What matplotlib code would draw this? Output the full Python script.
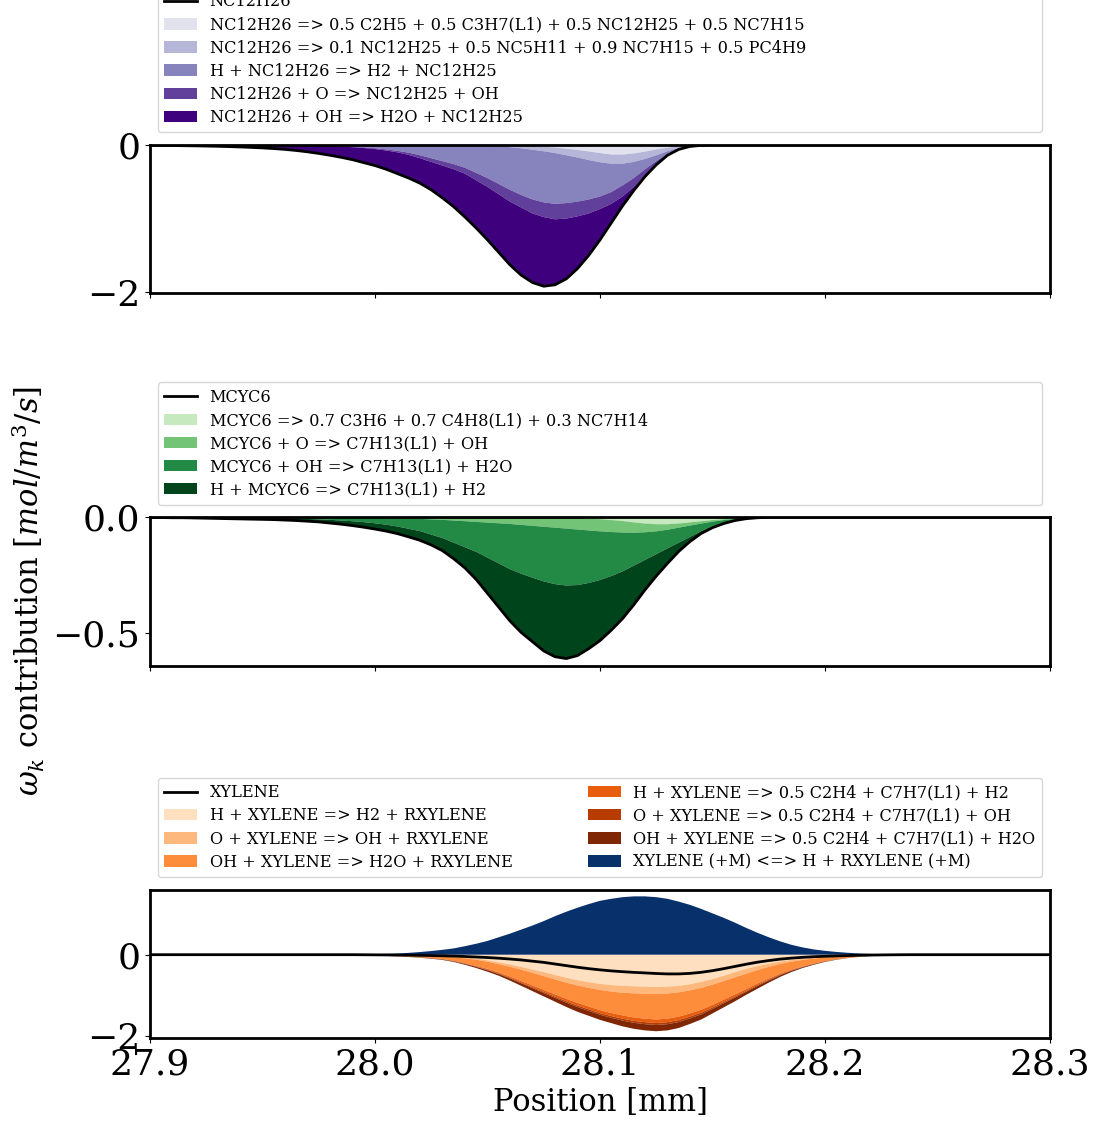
import numpy as np
import matplotlib
matplotlib.use('Agg')
import matplotlib.pyplot as plt

plt.rcParams['font.family'] = 'serif'
plt.rcParams['mathtext.fontset'] = 'dejavuserif'
plt.rcParams['axes.linewidth'] = 2

# position grid [mm], 0.005 mm spacing
x = np.round(27.9 + 0.005 * np.arange(81), 3)

# ---- NC12H26 ----
nc12h26_net = [-0.005, -0.006, -0.008, -0.010, -0.012, -0.015, -0.018, -0.022, -0.027, -0.033,
               -0.040, -0.049, -0.060, -0.075, -0.093, -0.115, -0.140, -0.168, -0.200, -0.240,
               -0.28, -0.33, -0.39, -0.45, -0.52, -0.61, -0.72, -0.84, -0.98, -1.13,
               -1.29, -1.46, -1.63, -1.77, -1.87, -1.92, -1.90, -1.82, -1.68, -1.50,
               -1.29, -1.06, -0.83, -0.62, -0.43, -0.27, -0.14, -0.06, -0.02, -0.005] + [0] * 31
# lower edge of each band in the stack (running sum)
nc12h26_edge1 = [0] * 31 + [-0.003, -0.006, -0.01, -0.016, -0.024, -0.035, -0.05, -0.068, -0.088,
                            -0.11, -0.13, -0.13, -0.115, -0.09, -0.06, -0.037, -0.018, -0.007, -0.002] + [0] * 31
nc12h26_edge2 = [0] * 29 + [-0.005,
                            -0.01, -0.018, -0.03, -0.045, -0.065, -0.085, -0.11, -0.14, -0.17, -0.205,
                            -0.235, -0.255, -0.255, -0.23, -0.19, -0.14, -0.085, -0.04, -0.015, -0.004] + [0] * 31
nc12h26_edge3 = [0] * 13 + [-0.003, -0.005, -0.008, -0.012, -0.017, -0.024, -0.033,
                            -0.045, -0.06, -0.08, -0.105, -0.14, -0.18, -0.22, -0.26, -0.31, -0.38,
                            -0.45, -0.53, -0.61, -0.68, -0.74, -0.78, -0.80, -0.79, -0.77, -0.74,
                            -0.70, -0.64, -0.55, -0.45, -0.33, -0.22, -0.12, -0.05, -0.017, -0.004] + [0] * 31
nc12h26_edge4 = [0] * 13 + [-0.004, -0.007, -0.010, -0.015, -0.021, -0.030, -0.041,
                            -0.055, -0.075, -0.10, -0.135, -0.18, -0.23, -0.28, -0.33, -0.39, -0.48,
                            -0.57, -0.67, -0.77, -0.85, -0.93, -0.98, -1.01, -1.00, -0.97, -0.93,
                            -0.87, -0.80, -0.70, -0.57, -0.42, -0.265, -0.137, -0.058, -0.019, -0.005] + [0] * 31
nc12h26_labels = ['NC12H26 => 0.5 C2H5 + 0.5 C3H7(L1) + 0.5 NC12H25 + 0.5 NC7H15',
                  'NC12H26 => 0.1 NC12H25 + 0.5 NC5H11 + 0.9 NC7H15 + 0.5 PC4H9',
                  'H + NC12H26 => H2 + NC12H25',
                  'NC12H26 + O => NC12H25 + OH',
                  'NC12H26 + OH => H2O + NC12H25']

# ---- MCYC6 ----
mcyc6_net = [-0.001, -0.001, -0.002, -0.002, -0.003, -0.004, -0.005, -0.006, -0.007, -0.008,
             -0.009, -0.010, -0.012, -0.014, -0.017, -0.020, -0.025, -0.030, -0.036, -0.043,
             -0.051, -0.060, -0.071, -0.085, -0.100, -0.120, -0.145, -0.180, -0.220, -0.270,
             -0.33, -0.39, -0.45, -0.50, -0.54, -0.58, -0.605, -0.613, -0.60, -0.57,
             -0.535, -0.49, -0.44, -0.38, -0.315, -0.255, -0.20, -0.148, -0.105, -0.07,
             -0.045, -0.027, -0.014, -0.006, -0.002] + [0] * 26
mcyc6_edge1 = [0] * 37 + [-0.001, -0.003, -0.005,
                          -0.008, -0.012, -0.016, -0.022, -0.027, -0.03, -0.03, -0.027, -0.022, -0.017,
                          -0.012, -0.008, -0.004, -0.002, -0.001] + [0] * 26
mcyc6_edge2 = [0] * 19 + [-0.001,
                          -0.002, -0.003, -0.004, -0.005, -0.007, -0.009, -0.011, -0.014, -0.017, -0.02,
                          -0.023, -0.026, -0.029, -0.033, -0.037, -0.041, -0.045, -0.049, -0.053, -0.057,
                          -0.061, -0.064, -0.066, -0.067, -0.065, -0.061, -0.054, -0.045, -0.036, -0.027,
                          -0.019, -0.012, -0.007, -0.003, -0.001] + [0] * 26
mcyc6_edge3 = [0, 0, -0.001, -0.001, -0.001, -0.002, -0.002, -0.002, -0.003, -0.003,
               -0.004, -0.004, -0.005, -0.006, -0.007, -0.009, -0.011, -0.014, -0.017, -0.021,
               -0.026, -0.032, -0.04, -0.05, -0.06, -0.075, -0.09, -0.11, -0.13, -0.15,
               -0.175, -0.20, -0.225, -0.245, -0.262, -0.278, -0.29, -0.296, -0.294, -0.285,
               -0.272, -0.255, -0.235, -0.21, -0.185, -0.16, -0.135, -0.11, -0.085, -0.06,
               -0.04, -0.024, -0.012, -0.005, -0.0015] + [0] * 26
mcyc6_labels = ['MCYC6 => 0.7 C3H6 + 0.7 C4H8(L1) + 0.3 NC7H14',
                'MCYC6 + O => C7H13(L1) + OH',
                'MCYC6 + OH => C7H13(L1) + H2O',
                'H + MCYC6 => C7H13(L1) + H2']

# ---- XYLENE ----
xylene_net = [0] * 19 + [-0.002,
                         -0.004, -0.006, -0.009, -0.012, -0.016, -0.021, -0.027, -0.035, -0.045, -0.057,
                         -0.07, -0.087, -0.107, -0.13, -0.16, -0.19, -0.23, -0.27, -0.31, -0.345,
                         -0.375, -0.40, -0.42, -0.437, -0.45, -0.465, -0.475, -0.475, -0.462, -0.435,
                         -0.395, -0.345, -0.29, -0.235, -0.185, -0.145, -0.11, -0.085, -0.065, -0.05,
                         -0.04, -0.03, -0.022, -0.015, -0.01, -0.006, -0.003, -0.001] + [0] * 13
xylene_edge1 = [0] * 19 + [-0.002,
                           -0.004, -0.006, -0.009, -0.013, -0.018, -0.025, -0.035, -0.05, -0.07, -0.095,
                           -0.14, -0.19, -0.24, -0.30, -0.37, -0.43, -0.50, -0.57, -0.63, -0.68,
                           -0.72, -0.75, -0.77, -0.78, -0.79, -0.80, -0.79, -0.77, -0.73, -0.67,
                           -0.60, -0.52, -0.43, -0.35, -0.28, -0.22, -0.17, -0.13, -0.10, -0.075,
                           -0.055, -0.04, -0.028, -0.019, -0.012, -0.007, -0.004, -0.002, -0.001] + [0] * 12
xylene_edge2 = [0] * 19 + [-0.002,
                           -0.005, -0.008, -0.012, -0.017, -0.024, -0.033, -0.045, -0.065, -0.09, -0.125,
                           -0.175, -0.235, -0.30, -0.37, -0.45, -0.53, -0.61, -0.69, -0.76, -0.82,
                           -0.87, -0.91, -0.94, -0.955, -0.965, -0.97, -0.96, -0.93, -0.88, -0.82,
                           -0.74, -0.65, -0.56, -0.47, -0.38, -0.30, -0.23, -0.175, -0.13, -0.095,
                           -0.07, -0.05, -0.035, -0.024, -0.015, -0.009, -0.005, -0.003, -0.001] + [0] * 12
xylene_edge3 = [0] * 15 + [-0.001, -0.002, -0.003, -0.005, -0.009,
                           -0.015, -0.023, -0.033, -0.046, -0.062, -0.082, -0.107, -0.15, -0.21, -0.275,
                           -0.35, -0.44, -0.54, -0.65, -0.76, -0.87, -0.98, -1.09, -1.19, -1.28,
                           -1.37, -1.44, -1.50, -1.55, -1.58, -1.60, -1.58, -1.53, -1.45, -1.36,
                           -1.24, -1.11, -0.98, -0.85, -0.71, -0.59, -0.47, -0.37, -0.29, -0.22,
                           -0.16, -0.11, -0.075, -0.05, -0.032, -0.02, -0.012, -0.006, -0.003, -0.001] + [0] * 11
xylene_edge4 = [0] * 15 + [-0.001, -0.002, -0.003, -0.006, -0.010,
                           -0.017, -0.025, -0.036, -0.050, -0.067, -0.087, -0.114, -0.159, -0.222, -0.292,
                           -0.371, -0.464, -0.570, -0.686, -0.802, -0.918, -1.034, -1.150, -1.256, -1.349,
                           -1.442, -1.515, -1.581, -1.634, -1.667, -1.687, -1.667, -1.614, -1.528, -1.432,
                           -1.303, -1.167, -1.031, -0.892, -0.749, -0.620, -0.494, -0.388, -0.302, -0.229,
                           -0.166, -0.115, -0.078, -0.052, -0.033, -0.021, -0.012, -0.006, -0.003, -0.001] + [0] * 11
xylene_edge5 = [0] * 15 + [-0.001, -0.002, -0.004, -0.006, -0.010,
                           -0.017, -0.026, -0.037, -0.052, -0.069, -0.090, -0.118, -0.164, -0.229, -0.301,
                           -0.383, -0.478, -0.587, -0.706, -0.826, -0.945, -1.065, -1.184, -1.293, -1.388,
                           -1.483, -1.558, -1.627, -1.682, -1.716, -1.736, -1.716, -1.662, -1.572, -1.473,
                           -1.339, -1.199, -1.060, -0.916, -0.771, -0.637, -0.508, -0.398, -0.309, -0.234,
                           -0.169, -0.117, -0.080, -0.052, -0.033, -0.021, -0.012, -0.006, -0.003, -0.001] + [0] * 11
xylene_edge6 = [0] * 15 + [-0.001, -0.002, -0.004, -0.007, -0.012,
                           -0.02, -0.03, -0.042, -0.058, -0.077, -0.10, -0.13, -0.18, -0.25, -0.33,
                           -0.42, -0.52, -0.64, -0.77, -0.90, -1.03, -1.16, -1.29, -1.41, -1.51,
                           -1.61, -1.69, -1.77, -1.83, -1.87, -1.89, -1.87, -1.81, -1.71, -1.60,
                           -1.45, -1.30, -1.15, -0.99, -0.84, -0.69, -0.55, -0.43, -0.33, -0.25,
                           -0.18, -0.125, -0.085, -0.055, -0.035, -0.022, -0.013, -0.007, -0.004, -0.002] + [0] * 11
xylene_decomp = [0] * 15 + [0.001, 0.002, 0.004, 0.006, 0.009,
                            0.013, 0.02, 0.03, 0.045, 0.065, 0.09, 0.12, 0.155, 0.21, 0.27,
                            0.34, 0.43, 0.52, 0.62, 0.72, 0.83, 0.95, 1.06, 1.16, 1.25,
                            1.33, 1.38, 1.42, 1.44, 1.44, 1.42, 1.38, 1.31, 1.23, 1.13,
                            1.02, 0.91, 0.79, 0.66, 0.54, 0.43, 0.33, 0.245, 0.18, 0.13,
                            0.095, 0.068, 0.047, 0.032, 0.021, 0.013, 0.008, 0.005, 0.003, 0.001] + [0] * 11
xylene_labels = ['H + XYLENE => H2 + RXYLENE',
                 'O + XYLENE => OH + RXYLENE',
                 'OH + XYLENE => H2O + RXYLENE',
                 'H + XYLENE => 0.5 C2H4 + C7H7(L1) + H2',
                 'O + XYLENE => 0.5 C2H4 + C7H7(L1) + OH',
                 'OH + XYLENE => 0.5 C2H4 + C7H7(L1) + H2O']
xylene_pos_label = 'XYLENE (+M) <=> H + RXYLENE (+M)'


def bands(edges):
    # stacked edges -> individual contributions
    e = np.vstack([np.zeros(len(x))] + [np.array(v, dtype=float) for v in edges])
    return np.diff(e, axis=0)


def colors(cmap, n):
    return plt.get_cmap(cmap)(np.linspace(0, 1, n + 1)[1:])


fig, axes = plt.subplots(3, 1, sharex=True, figsize=(10.97, 11.22), dpi=100)
fig.subplots_adjust(left=0.1367, right=0.9572, bottom=0.0749, top=0.8708, hspace=1.51)

leg_kw = dict(loc='lower left', bbox_to_anchor=(0, 1.03, 1, 0.2), mode='expand',
              fontsize=11.6, labelspacing=0.38)

ax = axes[0]
ax.plot(x, nc12h26_net, color='k', lw=2, label='NC12H26')
ax.stackplot(x, bands([nc12h26_edge1, nc12h26_edge2, nc12h26_edge3, nc12h26_edge4, nc12h26_net]),
             colors=colors('Purples', 5), labels=nc12h26_labels)
ax.set_yticks([-2, 0])
ax.legend(**leg_kw)

ax = axes[1]
ax.plot(x, mcyc6_net, color='k', lw=2, label='MCYC6')
ax.stackplot(x, bands([mcyc6_edge1, mcyc6_edge2, mcyc6_edge3, mcyc6_net]),
             colors=colors('Greens', 4), labels=mcyc6_labels)
ax.set_yticks([-0.5, 0.0])
ax.set_ylabel(r'$\omega_k$ contribution $[mol/m^3/s]$', fontsize=22)
ax.legend(**leg_kw)

ax = axes[2]
ax.plot(x, xylene_net, color='k', lw=2, label='XYLENE')
ax.stackplot(x, bands([xylene_edge1, xylene_edge2, xylene_edge3, xylene_edge4, xylene_edge5, xylene_edge6]),
             colors=colors('Oranges', 6), labels=xylene_labels)
ax.stackplot(x, [xylene_decomp], colors=colors('Blues', 1), labels=[xylene_pos_label])
ax.set_yticks([-2, 0])
ax.set_xlabel('Position [mm]', fontsize=22)
ax.legend(ncol=2, **leg_kw)

for ax in axes:
    ax.set_xlim(27.9, 28.3)
    ax.tick_params(labelsize=26)
axes[2].set_xticks([27.9, 28.0, 28.1, 28.2, 28.3])

fig.savefig('out.png', dpi=100)
